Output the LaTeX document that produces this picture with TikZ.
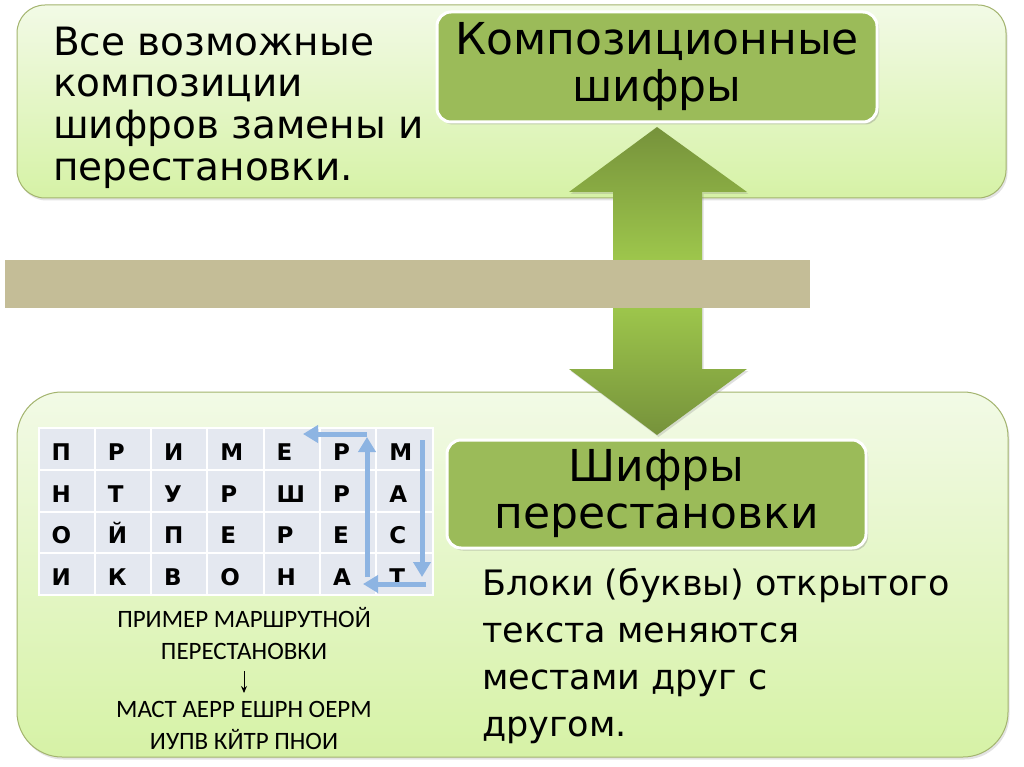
\documentclass[tikz,border=0pt]{standalone}
\usepackage{fontspec}
\setmainfont{DejaVu Sans}
\newfontfamily\capfont{Carlito}
\usetikzlibrary{shadows,arrows.meta}
\definecolor{panTop}{HTML}{F2FAE6}
\definecolor{panBot}{HTML}{D6F2A6}
\definecolor{panEdge}{HTML}{A3B46E}
\definecolor{boxFill}{HTML}{9BBB59}
\definecolor{bandCol}{HTML}{C4BD97}
\definecolor{arrDark}{HTML}{76923B}
\definecolor{arrLight}{HTML}{9EC74C}
\definecolor{cellCol}{HTML}{E4E8F0}
\definecolor{blueArr}{HTML}{8DB4E2}
\begin{document}
\begin{tikzpicture}[x=1pt,y=-1pt,
  panel/.style={draw=panEdge, line width=1pt, top color=panTop, bottom color=panBot,
     drop shadow={shadow xshift=1.5pt, shadow yshift=-2.5pt, opacity=0.22}},
  gbox/.style={draw=white, line width=3pt, fill=boxFill, rounded corners=14pt, align=center,
     inner sep=0pt, font=\fontsize{44}{47}\selectfont,
     drop shadow={shadow xshift=2pt, shadow yshift=-2.5pt, opacity=0.35}},
  body/.style={align=left, inner sep=0pt, anchor=north west},
  cell/.style={draw=white, line width=2pt, fill=cellCol, minimum height=41.75pt,
     text width=30.3pt, inner xsep=13pt, inner ysep=0pt, align=left,
     text height=23pt, text depth=0pt,
     font=\fontsize{23}{26}\selectfont\bfseries},
  caption/.style={align=center, inner sep=0pt, font=\capfont\fontsize{25}{32}\selectfont},
  route/.style={draw=blueArr, line width=5pt, -{Triangle[width=17pt,length=15pt]}},
  arrshadow/.style={drop shadow={shadow xshift=1.5pt, shadow yshift=-2pt, opacity=0.25}},
]
\useasboundingbox[fill=white] (0,0) rectangle (1024,767);
% panels
\draw[panel, rounded corners=28pt] (17,5) rectangle (1006,198);
\draw[panel, rounded corners=45pt] (17,392) rectangle (1008,757);
% double arrow (two halves, joined under the band)
\shade[top color=arrDark, bottom color=arrLight, arrshadow]
  (657,127) -- (747,192) -- (702,192) -- (702,262) -- (613,262) -- (613,192) -- (569,192) -- cycle;
\shade[top color=arrLight, bottom color=arrDark, arrshadow]
  (613,304) -- (702,304) -- (702,369) -- (747,369) -- (657,435) -- (569,369) -- (613,369) -- cycle;
% band
\fill[bandCol] (5,260) rectangle (810,308);
% green boxes
\node[gbox, minimum width=440pt, minimum height=110pt] (comp) at (657,67) {Композиционные\\шифры};
\node[gbox, minimum width=419pt, minimum height=108pt] (perm) at (656.5,494) {Шифры\\перестановки};
% texts
\node[body, font=\fontsize{39}{41.7}\selectfont] (desc1) at (53,26.5)
  {Все возможные\\композиции\\шифров замены и\\перестановки.};
\node[body, font=\fontsize{35}{47}\selectfont] (desc2) at (482,568)
  {Блоки (буквы) открытого\\текста меняются\\местами друг с\\другом.};
% table
\foreach \row [count=\r] in {{П,Р,И,М,Е,Р,М},{Н,Т,У,Р,Ш,Р,А},{О,Й,П,Е,Р,Е,С},{И,К,В,О,Н,А,Т}} {
  \foreach \ch [count=\c] in \row {
    \node[cell] (t-\r-\c) at ({38.5+56.3*(\c-0.5)}, {428+41.75*(\r-0.5)}) {\ch};
  }
}
% route arrows
\coordinate (r1) at (422,440); \coordinate (r2) at (422,577);
\coordinate (r3) at (426,584); \coordinate (r4) at (363,584);
\coordinate (r5) at (367,577); \coordinate (r6) at (367,437);
\coordinate (r7) at (367,434); \coordinate (r8) at (303,434);
\draw[route] (r1) -- (r2);
\draw[route] (r3) -- (r4);
\draw[route] (r5) -- (r6);
\draw[route] (r7) -- (r8);
% captions
\node[caption, anchor=south] (cap1) at (244,660) {ПРИМЕР МАРШРУТНОЙ\\ПЕРЕСТАНОВКИ};
\node[caption, anchor=south] (cap2) at (244,750) {МАСТ АЕРР ЕШРН ОЕРМ\\ИУПВ КЙТР ПНОИ};
\coordinate (s0) at (244,671); \coordinate (s1) at (244,693);
\draw[-{Stealth[length=7pt,width=6pt]}, line width=1pt] (s0) -- (s1);
\end{tikzpicture}
\end{document}
